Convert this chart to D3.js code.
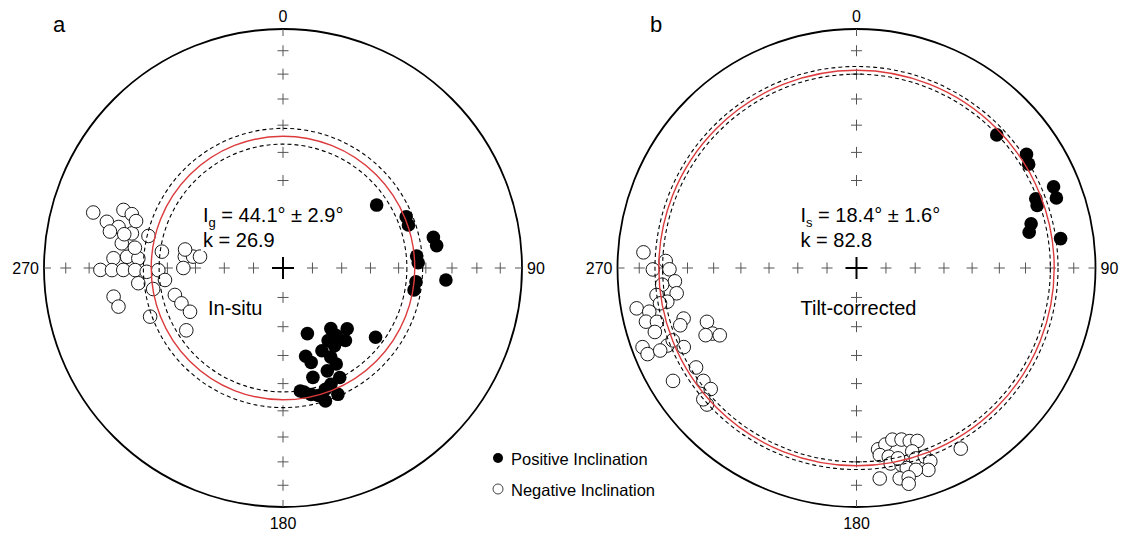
<!DOCTYPE html>
<html lang="en">
<head>
    <meta charset="UTF-8">
    <title>Stereonets</title>
    <script src="https://cdn.jsdelivr.net/npm/d3@7"></script>
    <style>
        body { margin: 0; background: #fff; }
        text { font-family: Arial, "Liberation Sans", sans-serif; }
    </style>
</head>
<body>
<script>
    // directions as [declination, inclination]
    const inSituPos = [
        [56.1, 51.0], [67.4, 43.5], [71.1, 43.8], [78.5, 36.0], [81.7, 35.3], [84.9, 43.2],
        [87.8, 42.8], [95.9, 43.4], [99.5, 43.7], [94.2, 32.2], [126.8, 50.0],
        [159.6, 66.1], [141.7, 63.6], [133.4, 59.7], [141.7, 60.5], [139.3, 57.1], [148.1, 60.7],
        [154.8, 58.6], [146.4, 58.0], [165.6, 58.7], [163.4, 56.1], [151.8, 55.2], [151.0, 52.1],
        [156.7, 51.3], [164.7, 50.8], [152.6, 47.2], [157.6, 46.3], [160.7, 45.3], [170.4, 46.3],
        [167.5, 44.9], [164.5, 43.9], [156.5, 41.9], [162.3, 41.2], [172.0, 46.9]
    ]
    const inSituNeg = [
        [286.3, -18.4], [290.0, -29.7], [289.6, -33.3], [284.7, -24.8], [284.0, -29.8], [281.9, -26.9],
        [282.9, -35.4], [278.7, -32.3], [283.4, -41.7], [273.3, -29.7], [274.1, -34.9], [273.8, -39.2],
        [277.7, -47.6], [269.4, -24.6], [269.3, -29.2], [269.3, -33.6], [269.2, -38.1], [268.4, -42.4],
        [269.0, -46.7], [264.2, -48.9], [264.0, -39.0], [260.8, -44.2], [260.4, -28.9], [256.8, -30.0],
        [249.9, -40.5], [256.0, -51.5], [250.8, -52.9], [244.8, -54.6], [276.6, -56.0], [277.2, -58.9],
        [277.8, -61.3], [270.0, -55.7], [237.2, -50.2], [287.7, -35.7], [282.0, -32.6], [277.8, -37.5],
        [280.7, -55.7]
    ]
    const tiltPos = [
        [46.5, 20.2], [56.2, 15.5], [58.9, 17.0], [67.6, 11.8], [70.7, 12.4],
        [68.9, 20.7], [70.9, 21.1], [75.8, 25.6], [78.3, 27.1], [81.8, 14.8]
    ]
    const tiltNeg = [
        [274.2, -11.6], [272.1, -21.2], [269.6, -15.9], [269.6, -22.8], [265.8, -24.8], [265.1, -19.5],
        [262.0, -25.0], [262.3, -16.7], [259.9, -20.7], [259.6, -7.2], [258.1, -12.4], [259.8, -17.6],
        [255.7, -10.0], [254.9, -14.6], [253.7, -25.6], [252.0, -23.5], [252.4, -12.5], [247.7, -15.6],
        [250.2, -33.9], [245.5, -34.2], [246.0, -31.5], [243.8, -36.4], [249.7, -5.1], [247.6, -6.1],
        [247.2, -11.9], [245.4, -21.6], [248.5, -18.5], [238.2, -22.1], [238.4, -10.8], [233.6, -21.5],
        [230.3, -21.8], [227.6, -16.4], [229.4, -16.7],
        [173.2, -24.6], [170.7, -26.1], [168.2, -27.5], [165.3, -26.7], [162.9, -25.2], [160.6, -24.3],
        [172.9, -22.2], [170.3, -21.0], [163.1, -20.9], [170.1, -18.1], [167.1, -16.6], [162.7, -17.7],
        [160.1, -17.2], [159.1, -14.5], [160.4, -11.3], [165.9, -14.8], [163.6, -13.0], [173.7, -12.4],
        [168.4, -11.1], [166.0, -10.7], [166.4, -7.9], [150.0, -13.8], [167.7, -19.6]
    ]
    const panelLetters = ['a', 'b']
    const meanInc = [44.1, 18.4]
    const alpha95 = [2.9, 1.6]
    const kappa = [26.9, 82.8]
    const incSubs = ['g', 's']
    const panelNotes = ['In-situ', 'Tilt-corrected']
    const axisDecs = [0, 90, 180, 270]
    const axisLabels = ['0', '90', '180', '270']
    const tickIncs = [10, 20, 30, 40, 50, 60, 70, 80]
    const legendLabels = ['Positive Inclination', 'Negative Inclination']

    const [width, height, R] = [1126, 538, 239]
    const centers = [[283, 268], [856.5, 268]]
    const statX = [-80, -56]
    const noteX = [-75, -56]
    const letterX = [53, 650]
    const red = '#dc3a3c'

    // equal-area: r = R * sqrt(1 - sin|I|)
    const rScale = d3.scaleSqrt().domain([0, 1]).range([0, R])
    const rad = d => d * Math.PI / 180
    const radius = inc => rScale(1 - Math.sin(rad(Math.abs(inc))))
    const proj = (dec, inc) => d3.pointRadial(rad(dec), radius(inc))

    const svg = d3.select('body').append('svg')
        .attr('width', width)
        .attr('height', height)

    const panelData = [[inSituPos, inSituNeg], [tiltPos, tiltNeg]]

    panelData.forEach(([pos, neg], i) => {
        const [cx, cy] = centers[i]
        const g = svg.append('g').attr('transform', `translate(${cx},${cy})`)

        // primitive circle
        g.append('circle').attr('r', R)
            .attr('fill', 'none').attr('stroke', '#000').attr('stroke-width', 1.8)

        // crosses along the four axes
        axisDecs.forEach(dec => {
            tickIncs.forEach(inc => {
                const [x, y] = proj(dec, inc)
                g.append('path')
                    .attr('d', `M${x - 5.5},${y}H${x + 5.5}M${x},${y - 5.5}V${y + 5.5}`)
                    .attr('stroke', '#555').attr('stroke-width', 1).attr('fill', 'none')
            })
            const [x0, y0] = proj(dec, 0)
            const [x1, y1] = d3.pointRadial(rad(dec), R - 7)
            g.append('line').attr('x1', x0).attr('y1', y0).attr('x2', x1).attr('y2', y1)
                .attr('stroke', '#555').attr('stroke-width', 1)
        })
        g.append('path').attr('d', 'M-11,0H11M0,-11V11')
            .attr('stroke', '#000').attr('stroke-width', 2)

        // axis labels
        g.append('text').attr('x', 0).attr('y', -R - 7).attr('text-anchor', 'middle')
            .attr('font-size', 16).text(axisLabels[0])
        g.append('text').attr('x', R + 5).attr('y', 6).attr('text-anchor', 'start')
            .attr('font-size', 16).text(axisLabels[1])
        g.append('text').attr('x', 0).attr('y', R + 22).attr('text-anchor', 'middle')
            .attr('font-size', 16).text(axisLabels[2])
        g.append('text').attr('x', -R - 5).attr('y', 6).attr('text-anchor', 'end')
            .attr('font-size', 16).text(axisLabels[3])

        // data points
        g.selectAll('circle.neg').data(neg).enter().append('circle')
            .attr('class', 'neg')
            .attr('cx', d => proj(d[0], d[1])[0])
            .attr('cy', d => proj(d[0], d[1])[1])
            .attr('r', 6.8)
            .attr('fill', '#fff').attr('stroke', '#000').attr('stroke-width', 0.9)
        g.selectAll('circle.pos').data(pos).enter().append('circle')
            .attr('class', 'pos')
            .attr('cx', d => proj(d[0], d[1])[0])
            .attr('cy', d => proj(d[0], d[1])[1])
            .attr('r', 6.8)
            .attr('fill', '#000')

        // mean inclination and confidence limits
        const m = meanInc[i], a = alpha95[i]
        ;[m - a, m + a].forEach(inc => {
            g.append('circle').attr('r', radius(inc))
                .attr('fill', 'none').attr('stroke', '#000')
                .attr('stroke-width', 1.1).attr('stroke-dasharray', '4,3')
        })
        g.append('circle').attr('r', radius(m))
            .attr('fill', 'none').attr('stroke', red).attr('stroke-width', 1.4)

        // statistics text
        const st = g.append('g')
        const t1 = st.append('text').attr('x', statX[i]).attr('y', -46).attr('font-size', 20)
        t1.append('tspan').text('I')
        t1.append('tspan').attr('font-size', 13).attr('dy', 5).text(incSubs[i])
        t1.append('tspan').attr('dy', -5).text(` = ${m.toFixed(1)}° ± ${a.toFixed(1)}°`)
        st.append('text').attr('x', statX[i]).attr('y', -21).attr('font-size', 20)
            .text(`k = ${kappa[i].toFixed(1)}`)
        const bb = st.node().getBBox()
        st.insert('rect', ':first-child')
            .attr('x', bb.x - 2).attr('y', bb.y)
            .attr('width', bb.width + 4).attr('height', bb.height)
            .attr('fill', '#fff')

        g.append('text').attr('x', noteX[i]).attr('y', 47).attr('font-size', 20)
            .text(panelNotes[i])

        svg.append('text').attr('x', letterX[i]).attr('y', 32).attr('font-size', 22)
            .text(panelLetters[i])
    })

    // legend
    const lg = svg.append('g').attr('transform', 'translate(498,458)')
    legendLabels.forEach((lab, i) => {
        lg.append('circle').attr('cx', 0).attr('cy', i * 31).attr('r', 5)
            .attr('fill', i === 0 ? '#000' : '#fff').attr('stroke', i === 0 ? 'none' : '#444')
            .attr('stroke-width', 1)
        lg.append('text').attr('x', 13).attr('y', i * 31 + 6.5).attr('font-size', 16.5)
            .text(lab)
    })
</script>
</body>
</html>
